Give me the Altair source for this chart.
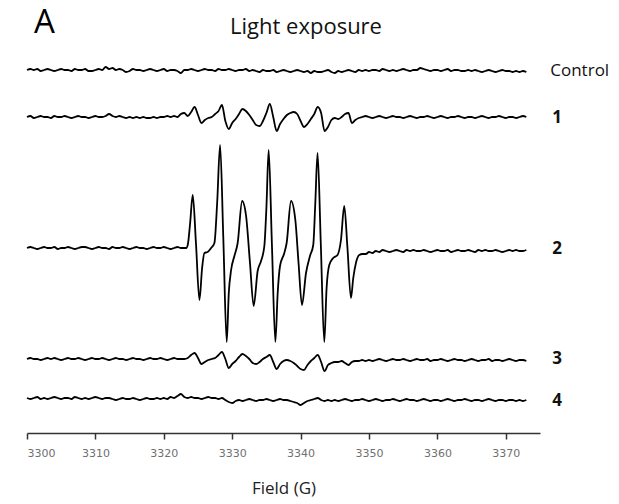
import altair as alt
import pandas as pd

# ---------------- data ----------------
trace_names = ["Control", "1", "2", "3", "4"]
trace_offsets = [363, 316, 185, 74, 34]
label_offsets = [363, 317, 186, 76, 34]
label_field = 3376.5
tick_values = [3300, 3305, 3310, 3315, 3320, 3325, 3330, 3335, 3340, 3345,
               3350, 3355, 3360, 3365, 3370, 3375]

# common 0.5 G grid 3300 .. 3373
grid_fields = [3300 + 0.5 * i for i in range(147)]

control_vals = [
    0, 1, 0, 1, -1, 0, 1, 0, -1, 0,
    1, 0, 0, -1, 1, 0, 0, 1, -1, -1,
    0, 1, 0, 3, 1, 2, 0, 1, 0, -2,
    -1, 1, 0, 0, -1, 0, 1, 0, -1, 0,
    1, -1, 0, 0, -1, -3, 0, 0, 1, 0,
    -1, 0, 1, 0, 0, -1, 1, 0, 0, 1,
    0, -1, 0, 0, 1, -1, 0, -1, -2, 0,
    -1, -1, 0, -2, -1, 0, -1, -2, -1, 0,
    -1, -2, -1, -3, -1, -2, -2, -1, 0, -2,
    -3, -1, -2, -1, 0, -1, -2, 0, -1, 0,
    -1, 0, 0, -1, 1, 0, -1, 0, -1, 0,
    1, 0, -1, 0, 0, 2, 1, 0, -1, 0,
    0, -1, 0, 1, -1, 0, 0, -1, -1, 0,
    -1, 0, -1, -2, -1, 0, -1, -2, -1, 0,
    -1, -1, -2, -1, -2, -1, -2,
]

trace1_vals = [
    0, 1, -1, 0, 1, 0, 0, -1, 1, 0,
    0, 1, 0, -1, 0, 1, 0, 0, -1, 0,
    1, 0, 0, 1, 3, 1, 0, 1, 0, -1,
    0, -1, 0, -1, 0, -1, -1, 0, -1, 0,
    0, 1, 0, 1, 0, 3, 4, 1, 5, 10,
    2, -6, -3, -1, 0, 3, 6, 12, -4, -12,
    -6, -2, 3, 8, 6, 2, -3, -8, -9, -4,
    4, 13, 0, -14, -7, -2, 2, 4, 5, 3,
    -4, -10, -7, -2, 3, 10, 4, -14, -10, -3,
    -1, -2, 0, 3, 4, -6, -3, -1, 0, 1,
    0, -1, 0, 1, 0, -1, 0, 1, 0, 0,
    -1, 0, 1, 0, -1, 0, 0, 1, 0, -1,
    0, 1, 0, -1, 0, 0, 1, 0, -1, 0,
    0, -1, 0, 1, 0, -1, 0, 0, 1, 0,
    -1, 0, 0, -1, 0, 1, 0,
]

trace2_left_vals = [
    0, 1, 0, -1, 0, 1, 0, 0, 1, -1,
    0, 0, 1, 0, -1, 0, 1, 1, 0, -1,
    0, 1, 0, 0, -1, 1, 0, 0, 1, 0,
    -1, 0, 1, 0, 0, -1, 0, 1, 0, 0,
    1, 0, -1, 0, 1, 0, 0,
]
trace2_peak_fields = [
    3323.27, 3323.5, 3323.85, 3324.23, 3324.7, 3325.21, 3325.6, 3325.94, 3326.42, 3326.92,
    3327.4, 3327.8, 3328.23, 3328.7, 3329.2, 3329.5, 3329.84, 3330.32, 3330.8, 3331.45,
    3332.03, 3332.6, 3333.14, 3333.72, 3334.22, 3334.7, 3335.0, 3335.33, 3335.8, 3336.31,
    3336.65, 3336.99, 3337.62, 3337.96, 3338.6, 3339.23, 3339.7, 3340.2, 3340.79, 3341.37,
    3341.85, 3342.15, 3342.48, 3342.95, 3343.46, 3343.8, 3344.19, 3344.77, 3345.4, 3345.9,
    3346.38, 3346.85, 3347.36, 3347.7, 3348.09, 3348.57, 3349.05, 3349.55, 3350.0, 3350.5,
    3351.0, 3351.5, 3352.0, 3352.5, 3353.0,
]
trace2_peak_vals = [
    0, 3, 25, 53, 5, -52, -20, -5, -4, 0,
    5, 45, 103, 10, -94, -45, -22, -8, 5, 47,
    32, -15, -58, -23, -13, 2, 40, 98, 5, -94,
    -45, -18, -5, 5, 47, 28, -15, -57, -25, -8,
    3, 45, 95, 5, -94, -40, -17, -10, -7, 8,
    42, 0, -50, -30, -15, -7, -6, -6, -4, -5,
    -3, -4, -2, -3, -4,
]
trace2_right_vals = [
    -3, -2, -3, -4, -2, -3, -2, -3, -3, -2,
    -3, -4, -3, -2, -3, -3, -2, -4, -3, -2,
    -3, -3, -2, -3, -4, -2, -3, -2, -3, -3,
    -2, -3, -4, -3, -2, -3, -2, -3, -3, -2,
]

trace3_vals = [
    0, 1, 0, 0, -1, 0, 1, 0, 1, 0,
    -1, 0, 1, 0, 0, 1, 0, -1, 0, 1,
    0, 0, 1, 0, -1, 0, 1, 0, 0, -1,
    0, 1, 0, 0, -1, 0, 1, 0, 0, 1,
    0, -1, 0, 1, 0, 0, 0, 1, 4, 6,
    1, -5, -3, -1, 0, 1, 4, 7, 0, -9,
    -5, -2, 2, 5, 3, 0, -4, -5, -3, 0,
    2, 4, -3, -10, -5, -2, -1, -2, -4, -7,
    -10, -11, -6, -2, 1, 4, -3, -12, -6, -4,
    -3, -3, -2, -4, -6, -3, -2, -2, -1, -2,
    -1, -2, -1, 0, -1, -2, -1, 0, -1, -1,
    0, -1, -2, -1, 0, -1, -1, 0, -2, -1,
    -1, 0, -1, -2, -1, 0, -1, -1, -2, -1,
    0, -1, -2, -1, -1, 0, -2, -1, -1, -2,
    -1, 0, -1, -2, -1, -1, -2,
]

trace4_vals = [
    1, 0, 1, 2, 0, 1, 0, 1, 2, 1,
    0, 1, 1, 0, 2, 1, 0, 1, 0, 1,
    2, 1, 0, 1, 1, 0, -1, 0, 1, 0,
    0, 1, 0, -1, 0, 1, 0, 0, 1, 0,
    1, 0, 2, 1, 3, 5, 2, 1, 2, 1,
    1, 0, 1, 2, 1, 1, 0, 1, -1, -3,
    -4, -2, -1, -2, -1, 0, -1, -2, -1, -1,
    0, -1, -2, -1, 0, -1, -1, -2, -3, -4,
    -6, -4, -2, -1, 0, 1, -1, -2, -1, -2,
    -1, -2, -1, 0, -1, -2, -1, -1, 0, -1,
    -2, -1, 0, -1, -2, -1, -1, 0, -1, -2,
    -1, 0, -1, -1, -2, -1, 0, -1, -2, -1,
    -1, -2, -1, 0, -1, -2, -1, -1, 0, -1,
    -2, -1, -1, -2, -1, 0, -1, -2, -1, -1,
    -2, -1, -1, -2, -1, -2, -1,
]

# ---------------- build table ----------------
rows = []
def add(name, fields, vals):
    off = trace_offsets[trace_names.index(name)]
    for f, v in zip(fields, vals):
        rows.append({"trace": name, "field": f, "value": off + v, "order": len(rows)})

add("Control", grid_fields, control_vals)
add("1", grid_fields, trace1_vals)
add("2", grid_fields[:47], trace2_left_vals)
add("2", trace2_peak_fields, trace2_peak_vals)
add("2", grid_fields[107:], trace2_right_vals)
add("3", grid_fields, trace3_vals)
add("4", grid_fields, trace4_vals)
df = pd.DataFrame(rows)

labels = pd.DataFrame({"trace": trace_names, "field": [label_field] * 5,
                       "value": label_offsets,
                       "kind": ["name", "num", "num", "num", "num"]})

x_scale = alt.Scale(domain=[3300, 3375], nice=False, zero=False)
y_scale = alt.Scale(domain=[0, 393], nice=False, zero=False)

x_axis = alt.Axis(
    values=tick_values, format="d",
    labelExpr="datum.value % 10 == 0 ? datum.label : ''",
    tickSize={"condition": {"test": "datum.value % 10 == 0", "value": 6}, "value": 3},
    grid=False, domainColor="#333333", domainWidth=1.5, tickColor="#333333",
    tickWidth=1.5, labelColor="#707070", labelFont="DejaVu Sans", labelFontSize=11,
    labelPadding=8, title="Field (G)", titleFont="Open Sans", titleFontSize=17,
    titleFontWeight="normal", titleColor="#222222", titlePadding=22,
)

lines = alt.Chart(df).mark_line(color="black", strokeWidth=1.8, strokeJoin="round",
                                interpolate="monotone").encode(
    x=alt.X("field:Q", scale=x_scale, axis=x_axis),
    y=alt.Y("value:Q", scale=y_scale, axis=None),
    detail="trace:N",
    order="order:Q",
)

name_text = alt.Chart(labels).transform_filter("datum.kind == 'name'").mark_text(
    align="left", baseline="middle", font="Open Sans", fontSize=17, color="#111111", dy=1
).encode(x=alt.X("field:Q", scale=x_scale), y=alt.Y("value:Q", scale=y_scale), text="trace:N")

num_text = alt.Chart(labels).transform_filter("datum.kind == 'num'").mark_text(
    align="left", baseline="middle", font="Open Sans", fontSize=17, fontWeight="bold",
    color="#111111", dx=2, dy=2
).encode(x=alt.X("field:Q", scale=x_scale), y=alt.Y("value:Q", scale=y_scale), text="trace:N")

title_text = alt.Chart(pd.DataFrame({"t": ["Light exposure"]})).mark_text(
    align="center", baseline="alphabetic", font="Open Sans", fontSize=22, color="#111111"
).encode(x=alt.value(279), y=alt.value(-6), text="t:N")

panel_text = alt.Chart(pd.DataFrame({"t": ["A"]})).mark_text(
    align="left", baseline="alphabetic", font="Open Sans", fontSize=33, fontWeight=500,
    color="#000000"
).encode(x=alt.value(7), y=alt.value(-7), text="t:N")

chart = alt.layer(lines, name_text, num_text, title_text, panel_text).properties(
    width=513, height=393,
    autosize=alt.AutoSizeParams(type="none"),
    padding={"left": 19, "top": 32, "right": 71, "bottom": 70},
).configure_view(stroke=None)

chart.save("out.html", embed_options={"renderer": "svg", "actions": False})
